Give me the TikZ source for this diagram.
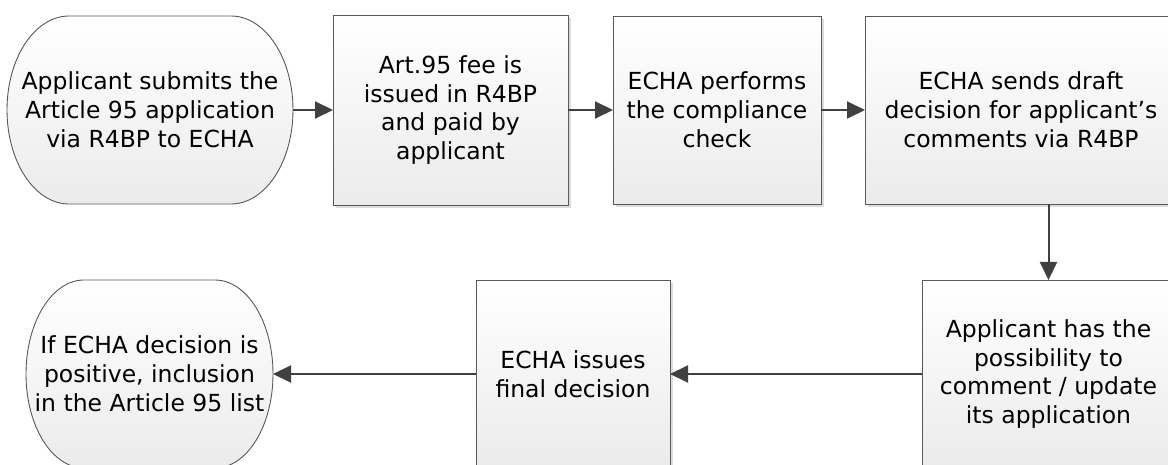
\documentclass[tikz,border=0pt]{standalone}
\usepackage{fontspec}
\setmainfont{DejaVu Sans}
\usetikzlibrary{arrows.meta,shadows}
\definecolor{edge}{HTML}{595959}
\definecolor{conn}{HTML}{404040}
\definecolor{shade}{HTML}{EBEBEB}
\definecolor{shadowc}{HTML}{DCDCDC}
\tikzset{
  txt/.style={align=center, font=\fontsize{23.5}{28.8}\selectfont, inner sep=0pt, outer sep=0pt, text=black},
  procbox/.style={txt, draw=edge, line width=0.9pt, top color=white, bottom color=shade,
     drop shadow={shadow xshift=3pt, shadow yshift=-3pt, fill=shadowc, opacity=1}},
  termnode/.style={txt},
  flow/.style={draw=conn, line width=2pt, -{Triangle[length=18pt,width=17pt]}},
}
\newcommand\mystad[3]{% node, x radius, y radius
  \begin{scope}[shift={(3,3)}]
    \fill[shadowc] ([xshift=#2]#1.north west) -- ([xshift=-#2]#1.north east)
      arc[start angle=90,end angle=-90,x radius=#2,y radius=#3]
      -- ([xshift=#2]#1.south west)
      arc[start angle=270,end angle=90,x radius=#2,y radius=#3] -- cycle;
  \end{scope}
  \path[draw=edge, line width=0.9pt, top color=white, bottom color=shade]
      ([xshift=#2]#1.north west) -- ([xshift=-#2]#1.north east)
      arc[start angle=90,end angle=-90,x radius=#2,y radius=#3]
      -- ([xshift=#2]#1.south west)
      arc[start angle=270,end angle=90,x radius=#2,y radius=#3] -- cycle;
}
\begin{document}
\begin{tikzpicture}[x=1pt,y=-1pt]
\useasboundingbox (0,0) rectangle (1168,465);
% terminator shapes (drawn, then text nodes on top)
\path (150,110) node[termnode, minimum width=286pt, minimum height=188pt] (s1) {};
\path (149.5,374) node[termnode, minimum width=247pt, minimum height=188pt] (s7) {};
\mystad{s1}{62pt}{94pt}
\mystad{s7}{58pt}{94pt}
\node[txt] at (s1.center) {Applicant submits the\\Article 95 application\\via R4BP to ECHA};
\node[txt] at (s7.center) {If ECHA decision is\\positive, inclusion\\in the Article 95 list};
% process boxes
\node[procbox, minimum width=235pt, minimum height=190pt] (b2) at (450.5,110)
  {Art.95 fee is\\issued in R4BP\\and paid by\\applicant};
\node[procbox, minimum width=208pt, minimum height=188pt] (b3) at (717,110)
  {ECHA performs\\the compliance\\check};
\node[procbox, minimum width=312pt, minimum height=188pt] (b4) at (1021,110)
  {ECHA sends draft\\decision for applicant’s\\comments via R4BP};
\node[procbox, minimum width=253pt, minimum height=188pt] (b5) at (1048.5,374)
  {Applicant has the\\possibility to\\comment / update\\its application};
\node[procbox, minimum width=194pt, minimum height=188pt] (b6) at (573,374)
  {ECHA issues\\final decision};
% connectors
\draw[flow] (s1.east) -- (b2.west);
\draw[flow] (b2.east) -- (b3.west);
\draw[flow] (b3.east) -- (b4.west);
\draw[flow] (b4.south -| b5.north) -- (b5.north);
\draw[flow] (b5.west) -- (b6.east);
\draw[flow] (b6.west) -- (s7.east);
\end{tikzpicture}
\end{document}
